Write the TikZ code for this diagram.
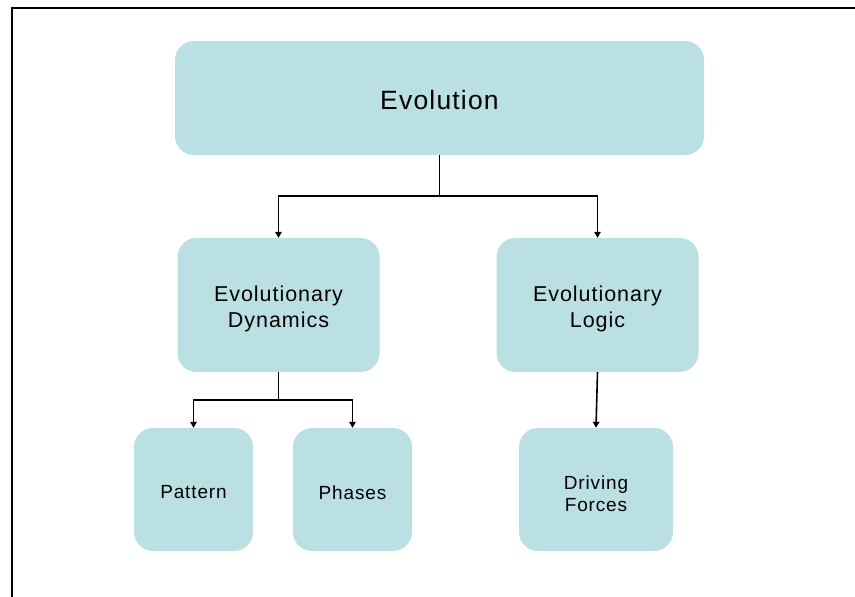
\documentclass[tikz,border=0pt]{standalone}
\usepackage{fontspec}
\setmainfont{Liberation Sans}[LetterSpace=4.5]
\usetikzlibrary{arrows.meta}
\definecolor{boxfill}{RGB}{187,224,227}
\begin{document}
\begin{tikzpicture}[x=1pt,y=-1pt,
  box/.style={fill=boxfill, rounded corners=19pt, inner sep=0pt},
  midbox/.style={box, minimum width=202pt, minimum height=134pt},
  leafbox/.style={box, minimum height=123pt},
  caption/.style={inner sep=0pt, align=center, text=black},
  toptext/.style={caption, font=\fontsize{26.5}{32}\selectfont},
  midtext/.style={caption, font=\fontsize{21.5}{26}\selectfont},
  leaftext/.style={caption, font=\fontsize{19}{22}\selectfont},
  link/.style={line width=1.6pt, black},
  arr/.style={link, -{Triangle[width=6.5pt,length=6pt]}}]
\useasboundingbox (0,0) rectangle (855,597);
% page frame
\draw[line width=2.3pt] (12,597) -- (12,8) -- (855,8);

% boxes
\node[box, minimum width=529pt, minimum height=114pt] (evo) at (439.5,98) {};
\node[midbox] (dyn) at (278.5,305) {};
\node[midbox] (logic) at (597.5,305) {};
\node[leafbox, minimum width=119pt] (pattern) at (193.5,489.5) {};
\node[leafbox, minimum width=119pt] (phases) at (352.5,489.5) {};
\node[leafbox, minimum width=154pt] (forces) at (596,489.5) {};

% captions
\node[toptext] (evoT) at ([yshift=-2pt]evo.center) {Evolution};
\node[midtext] (dynT) at ([yshift=-4pt]dyn.center) {Evolutionary\\Dynamics};
\node[midtext] (logicT) at ([yshift=-4pt]logic.center) {Evolutionary\\Logic};
\node[leaftext] (patternT) at ([yshift=-3pt]pattern.center) {Pattern};
\node[leaftext] (phasesT) at ([yshift=-3pt]phases.center) {Phases};
\node[leaftext] (forcesT) at ([yshift=-4pt]forces.center) {Driving\\Forces};

% connectors
\coordinate (j1) at (439.5,196);
\coordinate (j2) at (278.5,400);
\draw[link] (evo.south) -- (j1);
\draw[arr] (j1) -| (dyn.north);
\draw[arr] (j1) -| (logic.north);
\draw[link] (dyn.south) -- (j2);
\draw[arr] (j2) -| (pattern.north);
\draw[arr] (j2) -| (phases.north);
\draw[arr] (logic.south) -- (forces.north);
\end{tikzpicture}
\end{document}
